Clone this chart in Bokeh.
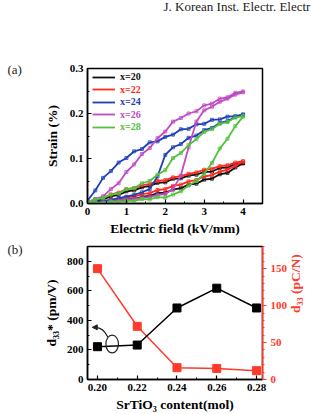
import math
from bokeh.plotting import figure
from bokeh.layouts import column, row
from bokeh.models import (Range1d, LinearAxis, Legend, LegendItem, FixedTicker,
                          SingleIntervalTicker, PrintfTickFormatter, Arrow, NormalHead)
from bokeh.core.properties import value
from bokeh.embed import file_html
from bokeh.resources import INLINE

SERIF = "Liberation Serif"

# ---------------- data: panel (a) strain loops ----------------
E = [0.0, 0.2, 0.4, 0.6, 0.8, 1.0, 1.2, 1.4, 1.6, 1.8, 2.0,
     2.2, 2.4, 2.6, 2.8, 3.0, 3.2, 3.4, 3.6, 3.8, 4.0]

s20_up = [0.000, 0.002, 0.002, 0.005, 0.006, 0.009, 0.010, 0.015, 0.017, 0.023, 0.024,
          0.031, 0.034, 0.042, 0.044, 0.053, 0.055, 0.065, 0.068, 0.080, 0.089]
s20_dn = [0.001, 0.006, 0.009, 0.016, 0.019, 0.027, 0.029, 0.036, 0.039, 0.046, 0.047,
          0.055, 0.056, 0.062, 0.064, 0.070, 0.071, 0.079, 0.080, 0.088, 0.090]
s22_up = [0.000, 0.003, 0.004, 0.008, 0.009, 0.014, 0.015, 0.021, 0.023, 0.030, 0.032,
          0.039, 0.042, 0.049, 0.052, 0.060, 0.063, 0.071, 0.075, 0.084, 0.093]
s22_dn = [0.002, 0.009, 0.013, 0.020, 0.024, 0.032, 0.034, 0.041, 0.043, 0.050, 0.052,
          0.058, 0.061, 0.066, 0.069, 0.075, 0.077, 0.083, 0.085, 0.091, 0.094]
s24_up = [0.000, 0.003, 0.006, 0.008, 0.012, 0.015, 0.019, 0.025, 0.032, 0.060, 0.108,
          0.125, 0.132, 0.146, 0.151, 0.163, 0.168, 0.179, 0.183, 0.192, 0.197]
s24_dn = [0.006, 0.029, 0.057, 0.072, 0.091, 0.101, 0.116, 0.121, 0.136, 0.138, 0.148,
          0.153, 0.165, 0.166, 0.176, 0.177, 0.186, 0.187, 0.193, 0.194, 0.198]
s26_up = [0.000, 0.002, 0.002, 0.005, 0.006, 0.009, 0.009, 0.013, 0.014, 0.019, 0.021,
          0.032, 0.062, 0.125, 0.182, 0.207, 0.215, 0.226, 0.233, 0.242, 0.247]
s26_dn = [0.003, 0.010, 0.016, 0.032, 0.045, 0.070, 0.087, 0.110, 0.123, 0.145, 0.160,
          0.182, 0.190, 0.200, 0.205, 0.218, 0.222, 0.233, 0.236, 0.246, 0.249]
s28_up = [0.000, 0.002, 0.001, 0.004, 0.003, 0.006, 0.006, 0.010, 0.009, 0.014, 0.013,
          0.020, 0.027, 0.040, 0.050, 0.066, 0.090, 0.122, 0.144, 0.172, 0.193]
s28_dn = [0.002, 0.009, 0.012, 0.020, 0.022, 0.032, 0.034, 0.045, 0.050, 0.064, 0.074,
          0.101, 0.112, 0.130, 0.143, 0.159, 0.165, 0.177, 0.181, 0.191, 0.194]

series_labels = ["x=20", "x=22", "x=24", "x=26", "x=28"]
series_colors = ["#111111", "#ff2a1f", "#1f3fb5", "#c24ac6", "#52c13d"]
series_up = [s20_up, s22_up, s24_up, s26_up, s28_up]
series_dn = [s20_dn, s22_dn, s24_dn, s26_dn, s28_dn]
strain_ticks = [0.0, 0.1, 0.2, 0.3]
strain_minor = [0.05, 0.15, 0.25]

# ---------------- data: panel (b) ----------------
srtio3 = [0.20, 0.22, 0.24, 0.26, 0.28]
d33_star = [222, 233, 484, 618, 484]
d33 = [150, 72, 16, 15, 12]

# annotation (ellipse + curved arrow) in data units of panel (b)
ell_x, ell_y, ell_w, ell_h = 0.2074, 240, 0.0063, 120
arc_x0, arc_y0, arc_cx, arc_cy, arc_x1, arc_y1 = 0.2052, 287, 0.2030, 352, 0.1990, 353
head_x0, head_y0, head_x1, head_y1 = 0.1990, 353, 0.1974, 353

header_text = "J. Korean Inst. Electr. Electr"


def style_axis(ax, size="11px"):
    ax.axis_line_width = 1.5
    ax.axis_line_color = "black"
    ax.major_tick_in = 4
    ax.major_tick_out = 0
    ax.minor_tick_in = 2
    ax.minor_tick_out = 0
    ax.major_tick_line_width = 1.2
    ax.minor_tick_line_width = 1
    ax.major_label_text_font = SERIF
    ax.major_label_text_font_style = "bold"
    ax.major_label_text_font_size = size
    ax.major_label_text_color = "black"
    ax.axis_label_text_font = SERIF
    ax.axis_label_text_font_style = "bold"
    ax.axis_label_text_font_size = "13.5px"
    ax.axis_label_text_color = "black"
    ax.major_label_standoff = 4


def text_strip(w, h, xs, ys, txts, size="13px"):
    f = figure(width=w, height=h, x_range=Range1d(0, w), y_range=Range1d(0, h),
               output_backend="svg", toolbar_location=None, title=None,
               x_axis_location=None, y_axis_location=None, min_border=0)
    f.min_border_left = f.min_border_right = f.min_border_top = f.min_border_bottom = 0
    f.grid.visible = False
    f.outline_line_color = None
    f.text(x=xs, y=ys, text=txts, text_font=value(SERIF), text_font_size=size,
           text_baseline="middle", text_align="left", text_color="#222222")
    return f


# ---------------- header & panel labels (pixel-like coordinates of each strip) ----------------
header = text_strip(313, 14, [163], [8], [header_text], size="13px")
side = text_strip(30, 400, [7, 7], [345, 165], ["(a)", "(b)"])

# ---------------- panel (a) ----------------
pa = figure(width=283, height=226, x_range=Range1d(0, 4.5), y_range=Range1d(0, 0.3),
            output_backend="svg", toolbar_location=None, title=None,
            min_border_left=57, min_border_right=46, min_border_top=54, min_border_bottom=37)
pa.grid.visible = False
pa.outline_line_color = "black"
pa.outline_line_width = 1.5
pa.xaxis.ticker = SingleIntervalTicker(interval=1, num_minor_ticks=2)
pa.yaxis.ticker = FixedTicker(ticks=strain_ticks, minor_ticks=strain_minor)
pa.yaxis.formatter = PrintfTickFormatter(format="%.1f")
style_axis(pa.xaxis[0])
style_axis(pa.yaxis[0])
pa.xaxis.axis_label = "Electric field (kV/mm)"
pa.yaxis.axis_label = "Strain (%)"
pa.xaxis.axis_label_standoff = 3
pa.yaxis.axis_label_standoff = 7

line_renderers = []
for lab, col, up, dn in zip(series_labels, series_colors, series_up, series_dn):
    xs = E + E[::-1]
    ys = up + dn[::-1]
    r = pa.line(xs, ys, line_color=col, line_width=1.8)
    pa.scatter(xs, ys, marker="square", size=3, fill_color=None, line_color=col, line_width=0.8)
    line_renderers.append(r)

for i, (lab, col, r) in enumerate(zip(series_labels, series_colors, line_renderers)):
    leg = Legend(items=[LegendItem(label=lab, renderers=[r])],
                 location=(5, 121 - 12.5 * i), border_line_color=None,
                 background_fill_alpha=0, padding=0, margin=0, spacing=0,
                 glyph_width=23, glyph_height=10, label_height=10, label_standoff=5,
                 label_text_font=SERIF, label_text_font_size="10px",
                 label_text_font_style="bold", label_text_color=col)
    pa.add_layout(leg, "center")

# ---------------- panel (b) ----------------
pb = figure(width=283, height=174, x_range=Range1d(0.195, 0.283), y_range=Range1d(0, 900),
            output_backend="svg", toolbar_location=None, title=None,
            min_border_left=57, min_border_right=46, min_border_top=6, min_border_bottom=33)
pb.grid.visible = False
pb.outline_line_color = "black"
pb.outline_line_width = 1.5
pb.extra_y_ranges = {"r": Range1d(0, 180)}
pb.xaxis.ticker = SingleIntervalTicker(interval=0.02, num_minor_ticks=2)
pb.xaxis.formatter = PrintfTickFormatter(format="%.2f")
pb.yaxis.ticker = SingleIntervalTicker(interval=200, num_minor_ticks=2)
style_axis(pb.xaxis[0])
style_axis(pb.yaxis[0])
pb.xaxis.axis_label = "SrTiO₃ content(mol)"
pb.yaxis.axis_label = "d₃₃* (pm/V)"
pb.xaxis.axis_label_standoff = 3
pb.yaxis.axis_label_standoff = 5

RED = "#ff3a2a"
rax = LinearAxis(y_range_name="r", ticker=SingleIntervalTicker(interval=50, num_minor_ticks=5))
style_axis(rax)
rax.major_tick_in = 0
rax.major_tick_out = 4
rax.minor_tick_in = 0
rax.minor_tick_out = 2
rax.axis_line_color = RED
rax.major_tick_line_color = RED
rax.minor_tick_line_color = RED
rax.major_label_text_color = RED
rax.axis_label_text_color = RED
rax.axis_label = "d₃₃ (pC/N)"
rax.axis_label_standoff = 5
rax.axis_label_orientation = math.pi / 2
pb.add_layout(rax, "right")

pb.line(srtio3, d33, y_range_name="r", line_color=RED, line_width=1.5)
pb.scatter(srtio3, d33, y_range_name="r", marker="square", size=8,
           fill_color=RED, line_color=RED)
pb.line(srtio3, d33_star, line_color="black", line_width=1.5)
pb.scatter(srtio3, d33_star, marker="square", size=8, fill_color="black", line_color="black")

pb.ellipse(x=[ell_x], y=[ell_y], width=ell_w, height=ell_h, fill_color=None,
           line_color="#222222", line_width=1.2)
pb.quadratic(x0=[arc_x0], y0=[arc_y0], x1=[arc_x1], y1=[arc_y1], cx=[arc_cx], cy=[arc_cy],
             line_color="#222222", line_width=1.2)
pb.add_layout(Arrow(end=NormalHead(size=5, fill_color="#222222", line_color="#222222"),
                    x_start=head_x0, y_start=head_y0, x_end=head_x1, y_end=head_y1,
                    line_color="#222222", line_width=1.2))

layout = column(header, row(side, column(pa, pb, spacing=0), spacing=0), spacing=0)
open("out.html", "w").write(file_html(layout, INLINE))
